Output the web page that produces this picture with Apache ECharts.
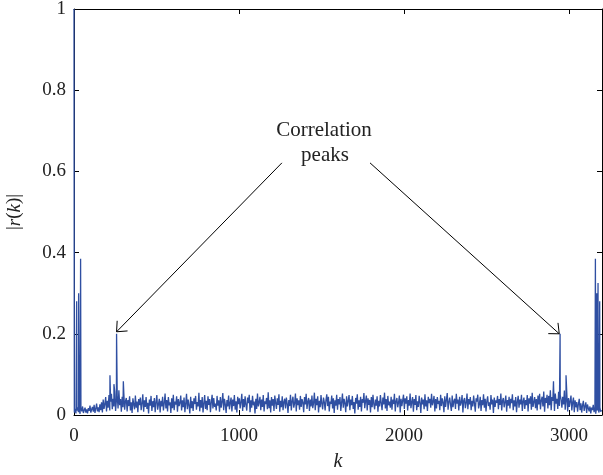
<!DOCTYPE html>
<html>
<head>
    <meta charset="UTF-8">
    <script src="https://cdn.jsdelivr.net/npm/echarts@6/dist/echarts.min.js"></script>
    <style>
        html, body { margin: 0; padding: 0; background: #fff; }
        #main { width: 603px; height: 475px; }
    </style>
</head>
<body>
<div id="main"></div>
<script type="text/javascript">
    // noise floor of |r(k)|, one sample every 5 lags starting at k = 2
    var noiseStart = 2;
    var noiseStep = 5;
    var noise = [
        .006,.015,.004,.011,.019,.007,.013,.003,.016,.009,.021,.005,.012,.018,.006,.014,
        .004,.017,.010,.023,.006,.014,.020,.008,.025,.005,.016,.028,.009,.019,.007,.026,
        .012,.031,.006,.038,.015,.027,.044,.009,.035,.018,.049,.011,.033,.052,.014,.040,
        .021,.058,.010,.036,.047,.016,.061,.024,.039,.008,.045,.019,.054,.013,.034,.042,
        .009,.037,.022,.046,.011,.031,.005,.041,.026,.014,.048,.018,.033,.007,.039,.024,
        .043,.012,.029,.051,.008,.036,.020,.044,.015,.030,.004,.038,.023,.047,.010,.034,
        .019,.042,.007,.032,.049,.013,.027,.040,.006,.035,.021,.045,.011,.029,.053,.016,
        .037,.009,.044,.024,.031,.005,.041,.017,.050,.012,.033,.026,.046,.008,.039,.022,
        .030,.048,.011,.036,.019,.043,.007,.028,.052,.014,.038,.024,.004,.045,.017,.034,
        .010,.041,.027,.047,.013,.032,.021,.055,.009,.037,.018,.044,.006,.029,.049,.015,
        .035,.012,.046,.025,.039,.007,.031,.050,.016,.042,.020,.028,.011,.047,.023,.036,
        .008,.044,.018,.033,.054,.012,.040,.026,.005,.037,.021,.048,.014,.030,.043,.009,
        .038,.022,.049,.013,.034,.006,.045,.027,.041,.016,.032,.052,.010,.039,.019,.046,
        .025,.011,.043,.029,.050,.007,.036,.018,.047,.024,.033,.004,.040,.015,.053,.021,
        .031,.045,.012,.038,.020,.049,.009,.034,.027,.042,.014,.056,.017,.036,.006,.044,
        .023,.039,.010,.048,.030,.015,.041,.025,.051,.008,.035,.019,.046,.012,.032,.040,
        .016,.043,.028,.005,.037,.022,.050,.011,.034,.045,.018,.029,.053,.009,.041,.024,
        .036,.013,.047,.020,.039,.031,.007,.044,.026,.052,.015,.033,.042,.010,.038,.021,
        .048,.017,.030,.055,.012,.040,.024,.046,.006,.035,.019,.049,.028,.014,.043,.032,
        .011,.037,.051,.022,.045,.009,.033,.027,.048,.016,.041,.005,.036,.023,.050,.013,
        .039,.026,.044,.010,.031,.053,.018,.040,.029,.007,.046,.021,.035,.049,.012,.038,
        .024,.047,.015,.032,.004,.042,.028,.051,.013,.036,.020,.045,.009,.039,.030,.054,
        .017,.034,.048,.011,.041,.025,.037,.006,.044,.019,.050,.027,.014,.038,.023,.046,
        .008,.035,.021,.049,.030,.012,.043,.026,.055,.016,.039,.010,.047,.024,.033,.018,
        .045,.013,.038,.027,.052,.009,.034,.042,.019,.031,.048,.006,.040,.022,.036,.050,
        .015,.041,.028,.046,.011,.037,.023,.053,.017,.032,.044,.008,.039,.025,.049,.012,
        .034,.020,.047,.030,.005,.043,.026,.038,.014,.051,.021,.036,.010,.045,.029,.040,
        .018,.052,.024,.033,.047,.009,.039,.016,.044,.027,.035,.012,.050,.022,.041,.031,
        .007,.046,.020,.037,.054,.013,.032,.043,.025,.010,.048,.019,.034,.040,.015,.052,
        .028,.038,.011,.045,.023,.031,.049,.006,.036,.042,.017,.030,.053,.014,.039,.026,
        .044,.012,.035,.021,.048,.029,.008,.041,.033,.050,.016,.027,.045,.010,.037,.024,
        .051,.018,.040,.009,.034,.046,.022,.031,.013,.049,.026,.038,.005,.043,.020,.036,
        .030,.047,.014,.039,.025,.053,.011,.035,.042,.019,.032,.048,.008,.037,.023,.045,
        .016,.040,.029,.051,.012,.036,.021,.044,.007,.033,.047,.018,.038,.026,.050,.010,
        .034,.043,.015,.037,.024,.049,.009,.041,.028,.046,.013,.055,.020,.032,.044,.017,
        .039,.011,.048,.026,.052,.014,.036,.045,.021,.058,.008,.042,.030,.050,.016,.047,
        .024,.061,.012,.044,.035,.066,.010,.053,.028,.040,.015,.057,.022,.049,.037,.018,
        .045,.026,.060,.013,.038,.051,.009,.042,.020,.034,.048,.011,.031,.043,.007,.036,
        .019,.032,.008,.027,.040,.012,.029,.006,.024,.035,.010,.022,.031,.005,.026,.017,
        .009,.021,.004,.018,.012,.025,.007,.016,.003,.020,.011,.014,.006,.019,.008,.012
    ];

    // isolated peaks: lag k and |r(k)|
    var peakK = [0, 16, 28, 40, 218, 242, 258, 299, 2906, 2946, 2982, 3160, 3168, 3176, 3186];
    var peakR = [1, .28, .30, .385, .098, .076, .2, .083, .083, .2, .098, .385, .30, .325, .28];

    var xTicks = [0, 1000, 2000, 3000];
    var yTicks = [0, 0.2, 0.4, 0.6, 0.8, 1];

    // annotation anchors in data coordinates
    var labelLines = ['Correlation', 'peaks'];
    var labelAt = [[1515, 0.702], [1521, 0.640]];
    var arrowFrom = [[1260, 0.621], [1794, 0.621]];
    var arrowTo = [[258, 0.205], [2941, 0.2]];

    var points = [];
    for (var i = 0; i < noise.length; i++) {
        points.push([noiseStart + i * noiseStep, noise[i]]);
    }
    for (var j = 0; j < peakK.length; j++) {
        points.push([peakK[j], peakR[j]]);
    }
    points.sort(function (a, b) { return a[0] - b[0]; });

    var font = '"Liberation Serif", "DejaVu Serif", serif';
    var myChart = echarts.init(document.getElementById('main'));

    var frameAxis = {
        axisLine: {show: true, onZero: false, lineStyle: {color: '#000', width: 1}},
        axisTick: {show: true, inside: true, length: 5, lineStyle: {color: '#000'}},
        splitLine: {show: false}
    };

    var option = {
        animation: false,
        backgroundColor: '#fff',
        grid: {left: 74, right: 1, top: 9, bottom: 60, containLabel: false, outerBoundsMode: 'none'},
        xAxis: [
            Object.assign({
                type: 'value', min: 0, max: 3200, interval: 1000,
                name: 'k', nameLocation: 'middle', nameGap: 37,
                nameTextStyle: {fontFamily: font, fontSize: 20, fontStyle: 'italic', color: '#222'},
                axisLabel: {
                    margin: 12, fontFamily: font, fontSize: 19, color: '#222',
                    formatter: function (v) { return xTicks.indexOf(v) >= 0 ? String(v) : ''; }
                }
            }, frameAxis),
            Object.assign({
                type: 'value', min: 0, max: 3200, interval: 1000, position: 'top',
                axisLabel: {show: false}
            }, frameAxis)
        ],
        yAxis: [
            Object.assign({
                type: 'value', min: 0, max: 1, interval: 0.2,
                name: '|{i|r}({i|k})|', nameLocation: 'middle', nameGap: 50, nameRotate: 90,
                nameTextStyle: {
                    fontFamily: font, fontSize: 19, color: '#222',
                    rich: {i: {fontFamily: font, fontSize: 19, fontStyle: 'italic', color: '#222'}}
                },
                axisLabel: {
                    margin: 8, fontFamily: font, fontSize: 19, color: '#222',
                    formatter: function (v) {
                        for (var t = 0; t < yTicks.length; t++) {
                            if (Math.abs(yTicks[t] - v) < 1e-9) return String(yTicks[t]);
                        }
                        return '';
                    }
                }
            }, frameAxis),
            Object.assign({
                type: 'value', min: 0, max: 1, interval: 0.2, position: 'right',
                axisLabel: {show: false}
            }, frameAxis)
        ],
        series: [
            {
                type: 'line',
                data: points,
                showSymbol: false,
                symbol: 'none',
                sampling: null,
                lineStyle: {color: '#2f4fa2', width: 1.3},
                z: 1
            }
        ]
    };

    myChart.setOption(option);

    // annotation text and arrows placed through the grid's coordinate system
    var graphics = [];
    for (var n = 0; n < labelLines.length; n++) {
        var p = myChart.convertToPixel({gridIndex: 0}, labelAt[n]);
        graphics.push({
            type: 'text', x: p[0], y: p[1], z: 10,
            style: {
                text: labelLines[n], font: '21px ' + font, fill: '#222',
                textAlign: 'center', textVerticalAlign: 'middle'
            }
        });
    }
    for (var a = 0; a < arrowFrom.length; a++) {
        var s = myChart.convertToPixel({gridIndex: 0}, arrowFrom[a]);
        var e = myChart.convertToPixel({gridIndex: 0}, arrowTo[a]);
        var ang = Math.atan2(s[1] - e[1], s[0] - e[0]);
        var len = 11, spread = 0.72;
        var h1 = [e[0] + len * Math.cos(ang + spread), e[1] + len * Math.sin(ang + spread)];
        var h2 = [e[0] + len * Math.cos(ang - spread), e[1] + len * Math.sin(ang - spread)];
        graphics.push({
            type: 'polyline', z: 10,
            shape: {points: [s, e]},
            style: {stroke: '#000', lineWidth: 1, fill: null}
        });
        graphics.push({
            type: 'polyline', z: 10,
            shape: {points: [h1, e, h2]},
            style: {stroke: '#000', lineWidth: 1, fill: null}
        });
    }
    myChart.setOption({graphic: graphics});
</script>
</body>
</html>
